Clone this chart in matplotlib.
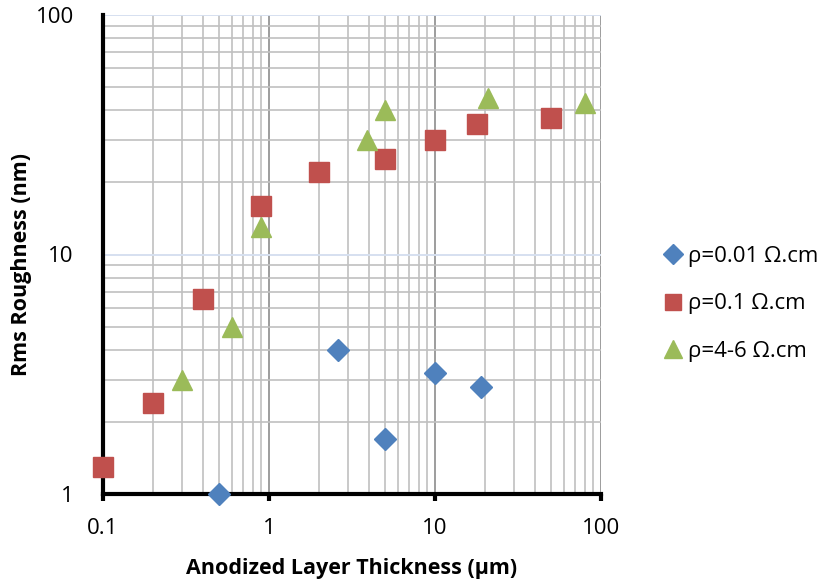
import matplotlib
matplotlib.use("Agg")
import matplotlib.pyplot as plt
from matplotlib.ticker import LogLocator, FixedLocator, NullFormatter

plt.rcParams['font.family'] = ['Open Sans', 'DejaVu Sans']

# Anodized layer thickness (µm) vs RMS roughness (nm) for three substrate resistivities
thk_001 = [0.5, 2.6, 5, 10, 19]
rms_001 = [1.0, 4.0, 1.7, 3.2, 2.8]

thk_01 = [0.1, 0.2, 0.4, 0.9, 2.0, 5, 10, 18, 50]
rms_01 = [1.3, 2.4, 6.5, 16, 22, 25, 30, 35, 37]

thk_46 = [0.3, 0.6, 0.9, 3.9, 5, 21, 80]
rms_46 = [3.0, 5.0, 13, 30, 40, 45, 43]

labels = ["ρ=0.01 Ω.cm", "ρ=0.1 Ω.cm", "ρ=4-6 Ω.cm"]
x_ticks = [0.1, 1, 10, 100]
x_tick_labels = ["0.1", "1", "10", "100"]
y_ticks = [1, 10, 100]
y_tick_labels = ["1", "10", "100"]

fig = plt.figure(figsize=(8.23, 5.87), dpi=100)
ax = fig.add_axes([103 / 823, 93 / 587, 498 / 823, 479 / 587])
ax.set_xscale('log')
ax.set_yscale('log')
ax.set_xlim(0.1, 100)
ax.set_ylim(1, 100)

# grid: minor gray, major x darker, major y pale blue
ax.xaxis.set_minor_locator(LogLocator(base=10, subs=range(2, 10)))
ax.yaxis.set_minor_locator(LogLocator(base=10, subs=range(2, 10)))
ax.grid(True, which='minor', axis='both', color='#c0c0c0', lw=1.2, zorder=0)
ax.grid(True, which='major', axis='x', color='#8c8c8c', lw=1.2, zorder=0)
ax.grid(True, which='major', axis='y', color='#d6e0f0', lw=1.4, zorder=0)
ax.set_axisbelow(True)

ax.xaxis.set_major_locator(FixedLocator(x_ticks))
ax.yaxis.set_major_locator(FixedLocator(y_ticks))
ax.set_xticklabels(x_tick_labels)
ax.set_yticklabels(y_tick_labels)
ax.xaxis.set_minor_formatter(NullFormatter())
ax.yaxis.set_minor_formatter(NullFormatter())

ax.tick_params(axis='x', which='major', direction='out', length=5, width=3,
               color='black', pad=12, labelsize=16)
ax.tick_params(axis='y', which='major', length=0, pad=21, labelsize=16)
ax.tick_params(which='minor', length=0)

for s in ['top', 'right']:
    ax.spines[s].set_visible(False)
for s in ['left', 'bottom']:
    ax.spines[s].set_linewidth(3)
    ax.spines[s].set_color('black')
    ax.spines[s].set_zorder(3)

ax.plot(thk_001, rms_001, linestyle='none', marker='D', ms=11.5,
        color='#4f81bd', mec='#4f81bd', label=labels[0], clip_on=False, zorder=4)
ax.plot(thk_01, rms_01, linestyle='none', marker='s', ms=14,
        color='#c0504d', mec='#c0504d', label=labels[1], clip_on=False, zorder=4)
ax.plot(thk_46, rms_46, linestyle='none', marker='^', ms=15,
        color='#9bbb59', mec='#9bbb59', label=labels[2], clip_on=False, zorder=4)

ax.set_xlabel('Anodized Layer Thickness (µm)', fontsize=15.5, fontweight='bold', labelpad=14)
ax.set_ylabel('Rms Roughness (nm)', fontsize=15.5, fontweight='bold')
ax.yaxis.set_label_coords(-0.163, 0.48)
ax.yaxis.label.set_verticalalignment('center')

leg = fig.legend(loc='center left', bbox_to_anchor=(656 / 823, 1 - 304 / 587),
                 frameon=False, fontsize=16, handlelength=0.7, handletextpad=0.35,
                 labelspacing=1.2, markerscale=0.85, borderaxespad=0)

fig.savefig('out.png', dpi=100)
